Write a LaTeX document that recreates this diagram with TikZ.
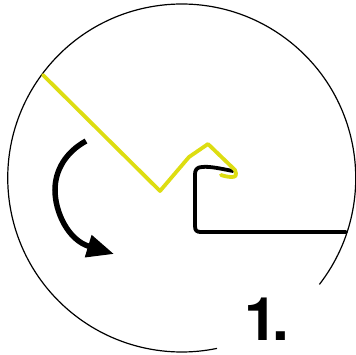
\documentclass[tikz,border=0pt]{standalone}
\usepackage{fontspec}
\setmainfont{TeX Gyre Heros}
\usepackage{xcolor}
\usetikzlibrary{arrows.meta}
\definecolor{flapyellow}{RGB}{221,221,17}
\tikzset{
  ring/.style={draw=black,line width=1.2pt},
  fold/.style={line width=3.8pt,line cap=round,line join=round},
  turn/.style={line width=5.5pt,-{Triangle[length=27pt,width=22pt]}}
}
\begin{document}
\begin{tikzpicture}[x=1pt,y=-1pt]
\useasboundingbox (0,0) rectangle (356,354);
% outer circle with a gap at the label
\draw[ring] (319.4,284.4) arc[start angle=37.7,end angle=-281.7,x radius=174,y radius=174];
% black strip
\draw[fold,draw=black] (233,171) .. controls (222,169) and (210,166) .. (202,167) .. controls (197,167) and (195,170) .. (195,174) -- (195,226) .. controls (195,231) and (197,232) .. (201,232) -- (346,232);
% yellow strip
\draw[fold,draw=flapyellow] (43,75) -- (160,191) -- (189,157) -- (208,144) -- (235,170) .. controls (237,175) and (236,177) .. (232,177) .. controls (228,177) and (224,176) .. (221,175);
% turning arrow
\draw[turn] (86,141) .. controls (66,152) and (55,170) .. (55,190) .. controls (55,212) and (68,240) .. (114,254);
\node[font=\bfseries\fontsize{60}{60}\selectfont,inner sep=0pt] (step) at (267,319.5) {1\kern-6pt.};
\end{tikzpicture}
\end{document}
